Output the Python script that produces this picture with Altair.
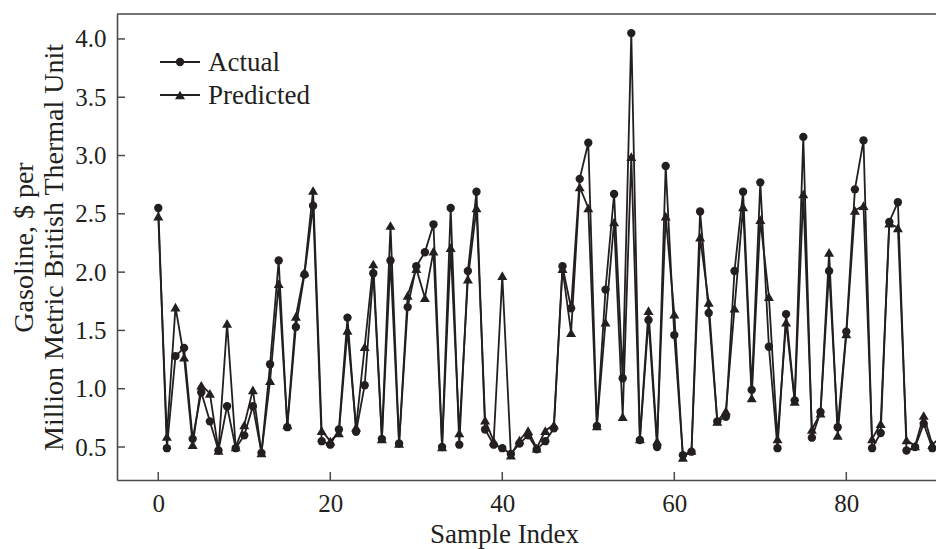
import altair as alt
import pandas as pd

series_names = ["Actual", "Predicted"]

actual = [2.55, 0.49, 1.28, 1.35, 0.57, 0.97, 0.72, 0.47, 0.85, 0.49,
          0.60, 0.85, 0.45, 1.21, 2.10, 0.67, 1.53, 1.98, 2.57, 0.55,
          0.52, 0.65, 1.61, 0.63, 1.03, 1.99, 0.57, 2.10, 0.53, 1.70,
          2.05, 2.17, 2.41, 0.50, 2.55, 0.52, 2.01, 2.69, 0.65, 0.52,
          0.49, 0.44, 0.53, 0.60, 0.48, 0.55, 0.66, 2.05, 1.69, 2.80,
          3.11, 0.68, 1.85, 2.67, 1.09, 4.05, 0.56, 1.59, 0.50, 2.91,
          1.46, 0.43, 0.46, 2.52, 1.65, 0.72, 0.76, 2.01, 2.69, 0.99,
          2.77, 1.36, 0.49, 1.64, 0.90, 3.16, 0.58, 0.80, 2.01, 0.67,
          1.49, 2.71, 3.13, 0.49, 0.62, 2.43, 2.60, 0.47, 0.50, 0.70,
          0.49, 0.48]

predicted = [2.48, 0.59, 1.70, 1.27, 0.52, 1.03, 0.96, 0.47, 1.56, 0.50,
             0.69, 0.99, 0.45, 1.07, 1.90, 0.69, 1.62, 2.00, 2.70, 0.64,
             0.55, 0.62, 1.50, 0.67, 1.36, 2.07, 0.57, 2.40, 0.53, 1.80,
             2.03, 1.78, 2.18, 0.50, 2.21, 0.62, 1.94, 2.55, 0.73, 0.55,
             1.97, 0.43, 0.56, 0.64, 0.49, 0.64, 0.69, 2.03, 1.48, 2.73,
             2.55, 0.68, 1.57, 2.43, 0.76, 2.99, 0.57, 1.67, 0.55, 2.48,
             1.64, 0.41, 0.47, 2.30, 1.74, 0.72, 0.81, 1.69, 2.56, 0.92,
             2.45, 1.79, 0.57, 1.57, 0.89, 2.67, 0.65, 0.79, 2.17, 0.60,
             1.47, 2.53, 2.57, 0.57, 0.70, 2.42, 2.38, 0.56, 0.51, 0.77,
             0.52, 0.59]

x_ticks = [0, 20, 40, 60, 80]
y_ticks = [0.5, 1.0, 1.5, 2.0, 2.5, 3.0, 3.5, 4.0]

rows = []
for name, vals in zip(series_names, [actual, predicted]):
    for i, v in enumerate(vals):
        rows.append({"index": i, "value": v, "series": name})
df = pd.DataFrame(rows)

W, H = 819, 466
INK = "#231f20"
FRAME = "#4a4a4a"
FONT = "Liberation Serif"
SHAPES = ["circle", "triangle-up"]
SIZES = [70, 100]

xscale = alt.Scale(domain=[-4.8, 90.43], nice=False, zero=False)
yscale = alt.Scale(domain=[0.217, 4.214], nice=False, zero=False)

xaxis = alt.Axis(values=x_ticks, title="Sample Index", grid=False, ticks=False,
                 tickSize=0, labelPadding=11, labelFont=FONT, labelFontSize=25,
                 labelColor=INK, titleFont=FONT, titleFontSize=27,
                 titleFontWeight="normal", titleColor=INK,
                 titleX=387, titleY=62, titleBaseline="alphabetic",
                 titleAlign="center",
                 domainColor=FRAME, domainWidth=1.6, labelFlush=False)
yaxis = alt.Axis(values=y_ticks, format=".1f",
                 title=["Gasoline, $ per", "Million Metric British Thermal Unit"],
                 grid=False, ticks=False, tickSize=0, labelPadding=11,
                 labelFont=FONT, labelFontSize=25, labelColor=INK,
                 titleFont=FONT, titleFontSize=28, titleFontWeight="normal",
                 titleColor=INK, titlePadding=6, titleLineHeight=30,
                 domainColor=FRAME, domainWidth=1.6, labelFlush=False)

base = alt.Chart(df)

lines = base.mark_line(color=INK, strokeWidth=1.8).encode(
    x=alt.X("index:Q", scale=xscale, axis=xaxis),
    y=alt.Y("value:Q", scale=yscale, axis=yaxis),
    detail="series:N",
)

point_layers = []
for i, name in enumerate(series_names):
    point_layers.append(
        base.transform_filter(alt.datum.series == name).mark_point(
            filled=True, size=SIZES[i], opacity=1, color=INK, shape=SHAPES[i]
        ).encode(
            x=alt.X("index:Q", scale=xscale),
            y=alt.Y("value:Q", scale=yscale),
        )
    )

# hand-made legend (line segment + marker + label), top-left inside the frame
legend_layers = []
for i, name in enumerate(series_names):
    ld = pd.DataFrame({"series": [name]})
    ly = 48 + 33 * i
    legend_layers.append(alt.Chart(ld).mark_rule(color=INK, strokeWidth=1.8).encode(
        x=alt.value(43), x2=alt.value(83), y=alt.value(ly)))
    legend_layers.append(alt.Chart(ld).mark_point(
        filled=True, size=SIZES[i], opacity=1, color=INK, shape=SHAPES[i]).encode(
        x=alt.value(63), y=alt.value(ly)))
    legend_layers.append(alt.Chart(ld).mark_text(
        align="left", baseline="middle", font=FONT, fontSize=27, color=INK).encode(
        x=alt.value(91), y=alt.value(ly + 1), text="series:N"))

xt = alt.Chart(pd.DataFrame({"index": x_ticks})).mark_rule(
    color=FRAME, strokeWidth=1.5).encode(
    x=alt.X("index:Q", scale=xscale), y=alt.value(H), y2=alt.value(H - 8))

yt = alt.Chart(pd.DataFrame({"value": y_ticks})).mark_rule(
    color=FRAME, strokeWidth=1.5).encode(
    y=alt.Y("value:Q", scale=yscale), x=alt.value(0), x2=alt.value(8))

top = alt.Chart(pd.DataFrame({"k": [0]})).mark_rule(
    color=FRAME, strokeWidth=1.6).encode(
    x=alt.value(0), x2=alt.value(W), y=alt.value(0))

chart = alt.layer(top, xt, yt, lines, *point_layers, *legend_layers).properties(
    width=W, height=H,
    autosize=alt.AutoSizeParams(type="none"),
    padding={"left": 109, "top": 6, "right": 0, "bottom": 69},
).configure_view(stroke=None).configure(background="white")

chart.save("out.html", embed_options={"renderer": "svg", "actions": False})
